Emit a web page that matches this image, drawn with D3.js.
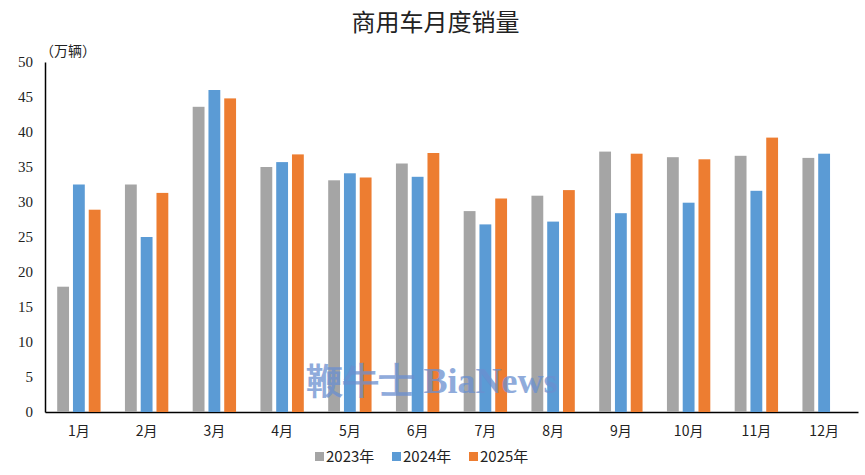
<!DOCTYPE html>
<html><head><meta charset="utf-8">
<script src="https://cdn.jsdelivr.net/npm/d3@7"></script>
<style>body{margin:0;background:#fff}</style>
</head><body><div id="chart"></div>
<script>
const months = ["1月","2月","3月","4月","5月","6月","7月","8月","9月","10月","11月","12月"];
const seriesNames = ["2023年","2024年","2025年"];
const colors = ["#a5a5a5","#5b9bd5","#ed7d31"];
const v2023 = [17.9,32.5,43.6,35.0,33.1,35.5,28.7,30.9,37.2,36.4,36.6,36.3];
const v2024 = [32.5,25.0,46.0,35.7,34.1,33.6,26.8,27.2,28.4,29.9,31.6,36.9];
const v2025 = [28.9,31.3,44.8,36.8,33.5,37.0,30.5,31.7,36.9,36.1,39.2,null];
const yTicks = [0,5,10,15,20,25,30,35,40,45,50];

const W = 865, H = 475;
const m = {left:45, right:7, top:62, bottom:63};
const svg = d3.select("#chart").append("svg").attr("width",W).attr("height",H);
const sans = "'Noto Sans CJK SC', sans-serif", serif = "'Liberation Serif', serif";

const x = d3.scaleBand().domain(months).range([m.left, W-m.right]).paddingInner(0.36).paddingOuter(0.18);
const xs = d3.scaleBand().domain(seriesNames).range([0, x.bandwidth()]).paddingInner(0.25);
const y = d3.scaleLinear().domain([0,50]).range([H-m.bottom, m.top]);

svg.append("text").attr("x",W/2+3).attr("y",31).attr("text-anchor","middle")
  .attr("font-family",sans).attr("font-size",24).attr("fill","#222").text("商用车月度销量");
svg.append("text").attr("x",40).attr("y",56).attr("font-family",sans).attr("font-size",14).attr("fill","#222").text("（万辆）");

const yAxis = svg.append("g").attr("transform",`translate(${m.left},0)`)
  .call(d3.axisLeft(y).tickValues(yTicks).tickSize(0).tickPadding(12));
yAxis.select(".domain").attr("stroke","#000").attr("stroke-width",1.5);
yAxis.selectAll("text").attr("font-family",serif).attr("font-size",15).attr("fill","#222");

const xAxis = svg.append("g").attr("transform",`translate(0,${y(0)})`)
  .call(d3.axisBottom(x).tickSize(0).tickPadding(14));
xAxis.select(".domain").attr("stroke","#000").attr("stroke-width",1.5);
xAxis.selectAll("text").attr("font-family",sans).attr("font-size",14).attr("fill","#222");

const all = [v2023,v2024,v2025];
all.forEach((vals,si)=>{
  svg.append("g").selectAll("rect").data(vals.map((v,i)=>({v,m:months[i]})).filter(d=>d.v!=null))
    .join("rect")
    .attr("x",d=>x(d.m)+xs(seriesNames[si]))
    .attr("width",xs.bandwidth())
    .attr("y",d=>y(d.v))
    .attr("height",d=>y(0)-y(d.v))
    .attr("fill",colors[si]);
});

svg.append("text").attr("x",432).attr("y",393).attr("text-anchor","middle")
  .attr("font-family",serif).attr("font-size",36).attr("font-weight","bold")
  .attr("fill","#6a8fd0").attr("opacity",0.75).text("鞭牛士 BiaNews");

const lg = svg.append("g").attr("transform","translate(315,462)");
const lx = [0,77,154];
seriesNames.forEach((n,i)=>{
  lg.append("rect").attr("x",lx[i]).attr("y",-10).attr("width",9).attr("height",9).attr("fill",colors[i]);
  lg.append("text").attr("x",lx[i]+11).attr("y",0).attr("font-family",sans).attr("font-size",15).attr("fill","#222").text(n);
});
</script></body></html>
